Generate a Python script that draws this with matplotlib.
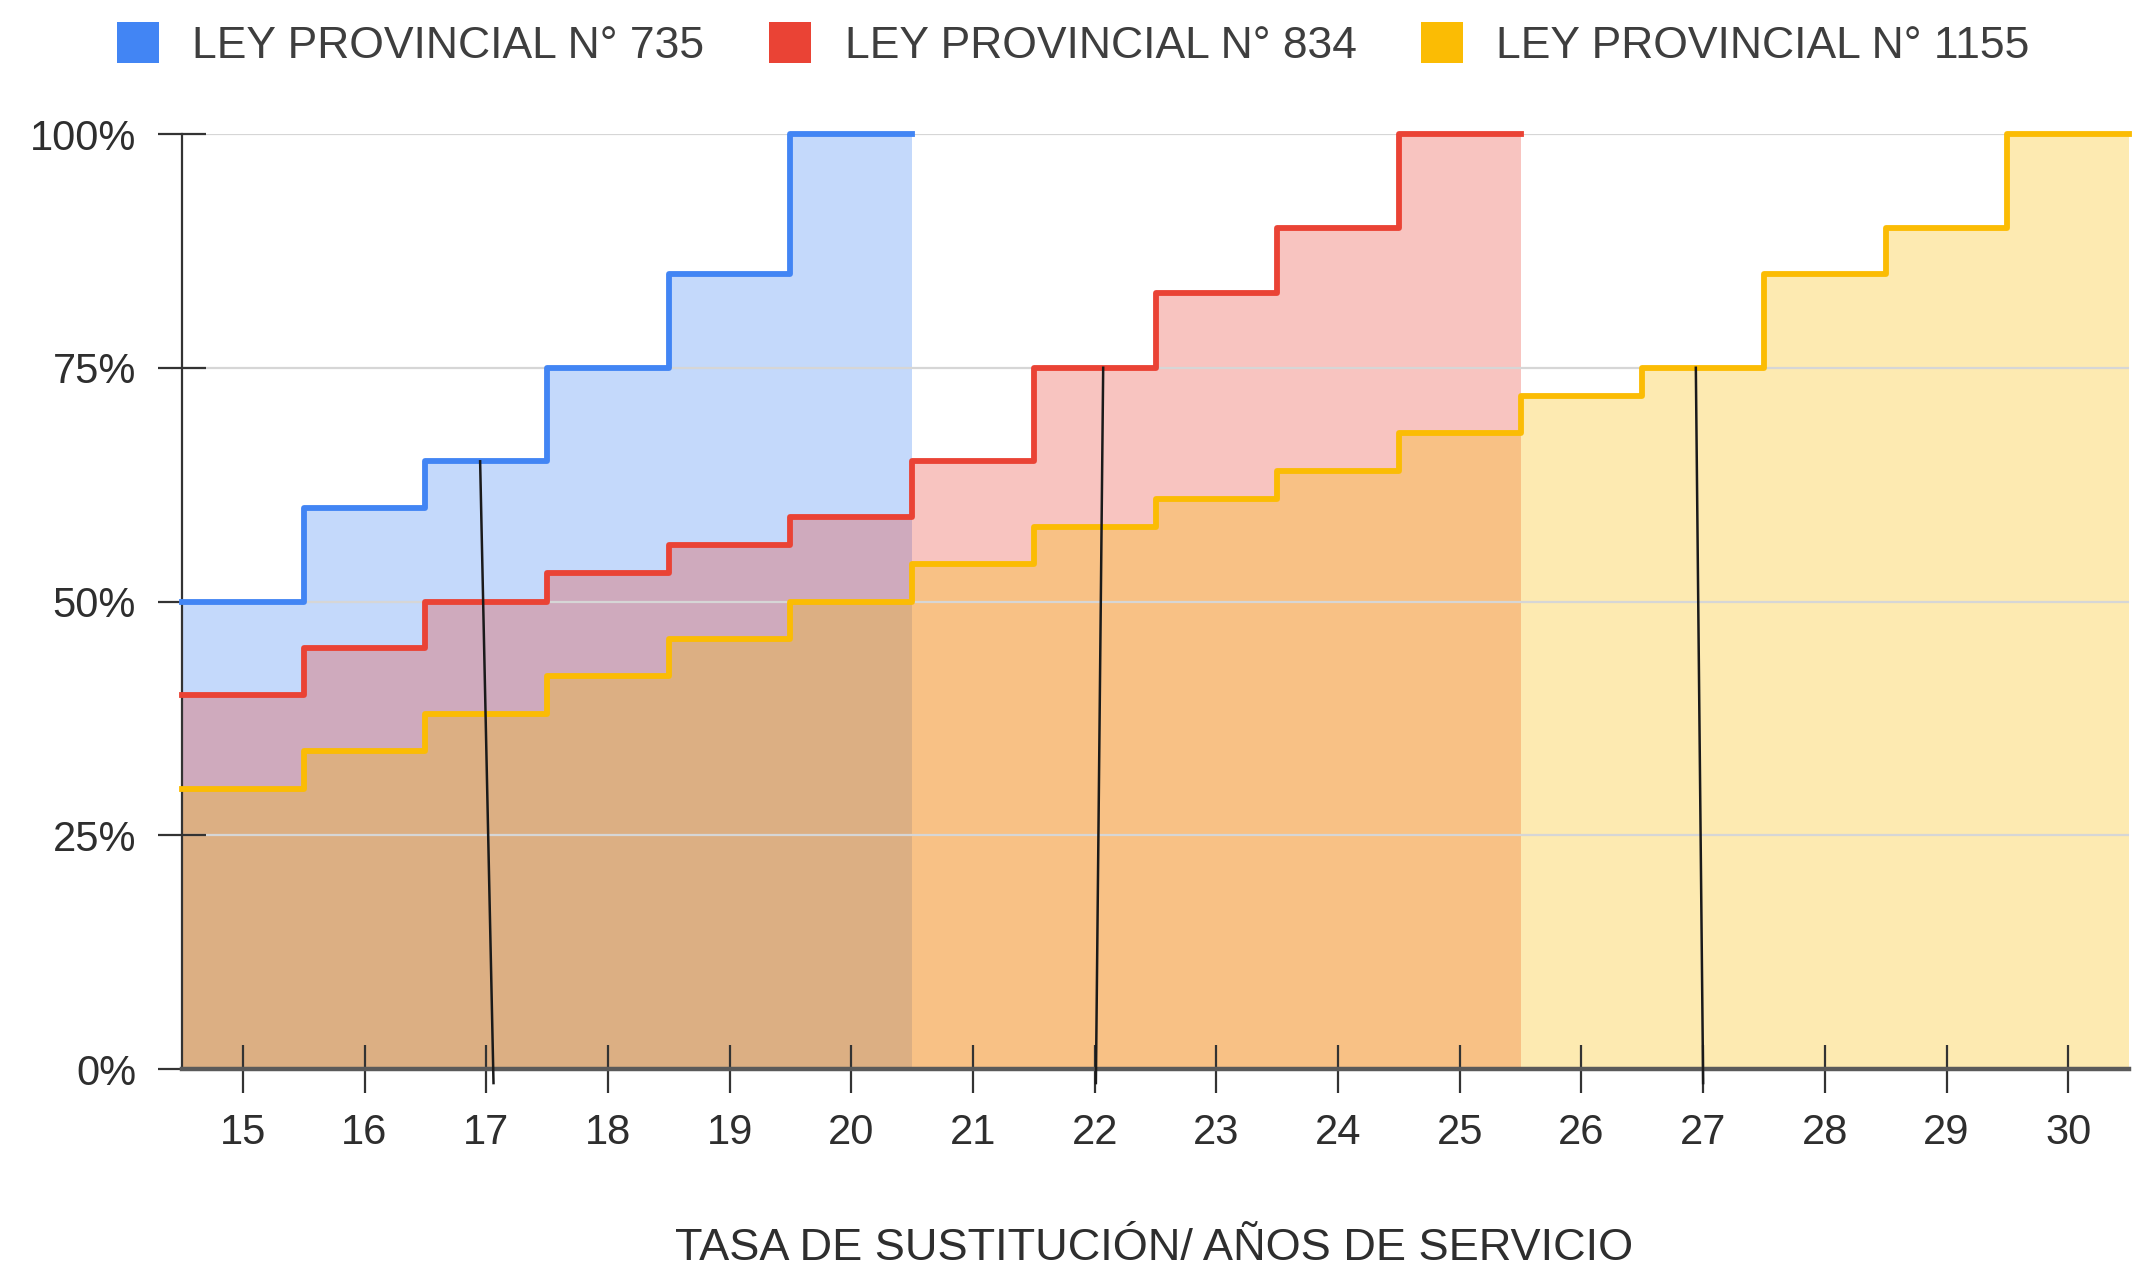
"""
Tasa de sustitución vs años de servicio - three provincial laws
Stepped area chart
"""
import numpy as np
import matplotlib
matplotlib.use("Agg")
import matplotlib.pyplot as plt
from matplotlib.patches import Patch

plt.rcParams['font.family'] = ['Liberation Sans', 'DejaVu Sans']

# Data
years_735 = [15, 16, 17, 18, 19, 20]
rate_735 = [50, 60, 65, 75, 85, 100]

years_834 = [15, 16, 17, 18, 19, 20, 21, 22, 23, 24, 25]
rate_834 = [40, 45, 50, 53, 56, 59, 65, 75, 83, 90, 100]

years_1155 = [15, 16, 17, 18, 19, 20, 21, 22, 23, 24, 25, 26, 27, 28, 29, 30]
rate_1155 = [30, 34, 38, 42, 46, 50, 54, 58, 61, 64, 68, 72, 75, 85, 90, 100]

labels = ["LEY PROVINCIAL N° 735", "LEY PROVINCIAL N° 834", "LEY PROVINCIAL N° 1155"]
colors = ['#4285F4', '#EA4335', '#FBBC04']

# hand-drawn marker lines (x top, y top, x bottom, y bottom)
marks_x = [(16.95, 17.06), (22.07, 22.01), (26.94, 27.0)]
marks_y = [(65, -1.5), (75, -1.5), (75, -1.5)]

y_ticks = [0, 25, 50, 75, 100]
x_ticks = list(range(15, 31))


def step_edges(years, vals):
    """Turn centred category values into post-step edges"""
    years = np.asarray(years, dtype=float)
    vals = np.asarray(vals, dtype=float)
    xe = np.append(years - 0.5, years[-1] + 0.5)
    ye = np.append(vals, vals[-1])
    return xe, ye


fig = plt.figure(figsize=(21.51, 12.68), dpi=100)
ax = fig.add_axes([0.0846, 0.1569, 0.9052, 0.7374])

series = [(years_735, rate_735), (years_834, rate_834), (years_1155, rate_1155)]

# fills first, then lines on top
for (yrs, vals), c in zip(series, colors):
    xe, ye = step_edges(yrs, vals)
    ax.fill_between(xe, ye, 0, step='post', color=c, alpha=0.31, linewidth=0, zorder=1)

for (yrs, vals), c in zip(series, colors):
    xe, ye = step_edges(yrs, vals)
    ax.step(xe, ye, where='post', color=c, linewidth=4.2, zorder=3,
            solid_joinstyle='round', clip_on=False)

for xs, ys in zip(marks_x, marks_y):
    ax.plot(xs, ys, color='#1a1a1a', linewidth=1.8, zorder=5, clip_on=False)

ax.set_xlim(14.5, 30.5)
ax.set_ylim(0, 100)

ax.set_yticks(y_ticks)
ax.set_yticklabels([f"{v}%" for v in y_ticks])
ax.set_xticks(x_ticks)
ax.set_xticklabels([str(v) for v in x_ticks])

ax.grid(axis='y', color='#d6d6d6', linewidth=1.6)
ax.grid(axis='x', visible=False)

for side in ['top', 'right']:
    ax.spines[side].set_visible(False)
ax.spines['left'].set_color('#333333')
ax.spines['left'].set_linewidth(1.6)
ax.spines['bottom'].set_color('#5a5a5a')
ax.spines['bottom'].set_linewidth(3.2)

ax.tick_params(axis='y', direction='inout', length=34, width=1.6, color='#333333',
               pad=16, labelsize=30, labelcolor='#2e2e2e')
ax.tick_params(axis='x', direction='inout', length=34, width=1.6, color='#333333',
               pad=15, labelsize=30, labelcolor='#2e2e2e')

# x axis title
fig.text(0.5365, 0.0067, "TASA DE SUSTITUCIÓN/ AÑOS DE SERVICIO",
         ha='center', va='baseline', fontsize=32.5, color='#2e2e2e')

# legend on top
handles = [Patch(facecolor=c, edgecolor='none') for c in colors]
fig.legend(handles, labels, loc='center', bbox_to_anchor=(0.499, 0.965), ncol=3,
           frameon=False, fontsize=32, labelcolor='#3e3e3e',
           handlelength=0.95, handleheight=1.05, handletextpad=0.75,
           columnspacing=1.45, borderaxespad=0)

fig.savefig("out.png", dpi=100)
plt.close(fig)
